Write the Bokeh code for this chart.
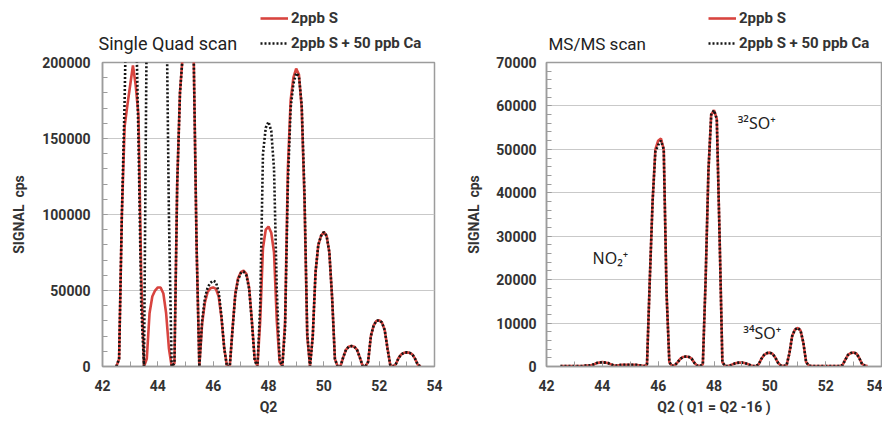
from bokeh.plotting import figure
from bokeh.layouts import row, column
from bokeh.models import (Range1d, SingleIntervalTicker, BasicTickFormatter,
                          Label, Legend, LegendItem)
from bokeh.embed import file_html
from bokeh.resources import INLINE

# ---------------- data ----------------
mass = [42.5, 42.6, 42.7, 42.8, 42.9, 43.0, 43.1, 43.2, 43.3, 43.4,
        43.5, 43.6, 43.7, 43.8, 43.9, 44.0, 44.1, 44.2, 44.3, 44.4,
        44.5, 44.6, 44.7, 44.8, 44.9, 45.0, 45.1, 45.2, 45.3, 45.4,
        45.5, 45.6, 45.7, 45.8, 45.9, 46.0, 46.1, 46.2, 46.3, 46.4,
        46.5, 46.6, 46.7, 46.8, 46.9, 47.0, 47.1, 47.2, 47.3, 47.4,
        47.5, 47.6, 47.7, 47.8, 47.9, 48.0, 48.1, 48.2, 48.3, 48.4,
        48.5, 48.6, 48.7, 48.8, 48.9, 49.0, 49.1, 49.2, 49.3, 49.4,
        49.5, 49.6, 49.7, 49.8, 49.9, 50.0, 50.1, 50.2, 50.3, 50.4,
        50.5, 50.6, 50.7, 50.8, 50.9, 51.0, 51.1, 51.2, 51.3, 51.4,
        51.5, 51.6, 51.7, 51.8, 51.9, 52.0, 52.1, 52.2, 52.3, 52.4,
        52.5, 52.6, 52.7, 52.8, 52.9, 53.0, 53.1, 53.2, 53.3, 53.4,
        53.5]

# Single Quad scan, 2ppb S
sq_s = [0, 5000, 100000, 158000, 172000, 185000, 198000, 185000, 165000, 60000,
        0, 5000, 35000, 46000, 50000, 52000, 52000, 48000, 35000, 12000,
        0, 2000, 120000, 180000, 205000, 220000, 220000, 210000, 200000, 80000,
        0, 28000, 42000, 49000, 51500, 52000, 51000, 46000, 32000, 12000,
        0, 0, 25000, 48000, 58000, 62000, 63000, 61000, 52000, 30000,
        5000, 0, 30000, 78000, 90000, 92000, 88000, 75000, 30000, 3000,
        0, 30000, 130000, 175000, 190000, 196000, 192000, 170000, 110000, 20000,
        0, 20000, 62000, 80000, 86000, 88500, 86000, 75000, 45000, 5000,
        0, 0, 6000, 11000, 13000, 13500, 13000, 11000, 6000, 500,
        0, 3000, 20000, 27000, 30000, 30500, 29000, 24000, 12000, 1000,
        0, 1500, 5500, 8000, 9000, 9300, 9000, 8000, 5000, 1000,
        0]

# Single Quad scan, 2ppb S + 50 ppb Ca
sq_s_ca = [0, 5000, 100000, 175000, 280000, 320000, 300000, 240000, 150000, 40000,
           0, 230000, 400000, 450000, 480000, 500000, 480000, 420000, 260000, 100000,
           0, 2000, 120000, 180000, 205000, 225000, 225000, 212000, 200000, 80000,
           0, 30000, 45000, 52000, 55000, 56500, 55500, 49000, 33000, 12000,
           0, 0, 24000, 47000, 57000, 61500, 62500, 60000, 51000, 29000,
           4000, 0, 40000, 140000, 157000, 161000, 155000, 130000, 50000, 5000,
           0, 25000, 120000, 170000, 186000, 193000, 191000, 172000, 115000, 22000,
           0, 20000, 62000, 80000, 86000, 88500, 86000, 75000, 45000, 5000,
           0, 0, 6000, 11000, 13000, 13500, 13000, 11000, 6000, 500,
           0, 3000, 20000, 27000, 30000, 30500, 29000, 24000, 12000, 1000,
           0, 1500, 5500, 8000, 9000, 9300, 9000, 8000, 5000, 1000,
           0]

# MS/MS scan, 2ppb S
ms_s = [100, 100, 100, 100, 100, 100, 100, 100, 100, 200,
        200, 300, 500, 800, 900, 1000, 900, 800, 500, 300,
        200, 300, 400, 400, 400, 400, 400, 400, 300, 200,
        100, 500, 20000, 38000, 50000, 52000, 52500, 50000, 17000, 1000,
        100, 300, 1000, 1800, 2200, 2300, 2200, 1800, 800, 200,
        100, 500, 20000, 45000, 58000, 59000, 57000, 30000, 1000, 100,
        100, 300, 600, 800, 900, 900, 800, 600, 300, 100,
        100, 500, 1800, 2700, 3100, 3200, 2900, 2000, 800, 200,
        100, 300, 3000, 7000, 8500, 8900, 8300, 5500, 1000, 200,
        100, 100, 100, 100, 100, 100, 100, 100, 100, 100,
        100, 300, 1500, 2700, 3100, 3200, 3000, 2000, 600, 200,
        100]

# MS/MS scan, 2ppb S + 50 ppb Ca
ms_s_ca = [100, 100, 100, 100, 100, 100, 100, 100, 100, 200,
           200, 300, 500, 800, 900, 1000, 900, 800, 500, 300,
           200, 300, 400, 400, 400, 400, 400, 400, 300, 200,
           100, 500, 20000, 38000, 49500, 51000, 52000, 50000, 17000, 1000,
           100, 300, 1000, 1800, 2200, 2300, 2200, 1800, 800, 200,
           100, 500, 20000, 45000, 58000, 59000, 57000, 30000, 1000, 100,
           100, 300, 600, 800, 900, 900, 800, 600, 300, 100,
           100, 500, 1800, 2700, 3100, 3200, 2900, 2000, 800, 200,
           100, 300, 3000, 7000, 8500, 8900, 8300, 5500, 1000, 200,
           100, 100, 100, 100, 100, 100, 100, 100, 100, 100,
           100, 300, 1500, 2700, 3100, 3200, 3000, 2000, 600, 200,
           100]

legend_labels = ["2ppb S", "2ppb S + 50 ppb Ca"]
titles = ["Single Quad scan", "MS/MS scan"]
x_labels = ["Q2", "Q2 ( Q1 = Q2 -16 )"]
y_label = "SIGNAL\u00a0\u00a0cps"
annotations = [("\u00b3\u00b2SO\u207a", 48.85, 56000),
               ("NO\u2082\u207a", 43.65, 24900),
               ("\u00b3\u2074SO\u207a", 49.05, 7600)]

# ---------------- styling ----------------
FONT = "Roboto"
RED = "#d8443f"
BLACK = "#151515"
GRAY = "#9c9c9c"
TXT = "#333333"
HEAD_H = 54


def make_header(width, title, title_x, legend_x, title_size, ys, yca):
    h = figure(width=width, height=HEAD_H, output_backend="svg",
               toolbar_location=None, title=None,
               x_axis_location=None, y_axis_location=None,
               x_range=Range1d(0, 1), y_range=Range1d(0, 1),
               min_border=0, outline_line_color=None)
    h.background_fill_color = "white"
    h.border_fill_color = "white"
    h.grid.visible = False
    # the same series (outside this strip's range) so the key shows their styles
    r_s = h.line(mass, ys, line_color=RED, line_width=2.6)
    r_ca = h.line(mass, yca, line_color=BLACK, line_width=2.6, line_dash="2 2")
    legend = Legend(items=[LegendItem(label=legend_labels[0], renderers=[r_s]),
                           LegendItem(label=legend_labels[1], renderers=[r_ca])],
                    location=(legend_x, 1), padding=0, margin=0, spacing=5,
                    glyph_width=28, glyph_height=20, label_height=20,
                    label_standoff=3, border_line_color=None,
                    background_fill_alpha=0)
    legend.label_text_font = FONT
    legend.label_text_font_style = "bold"
    legend.label_text_font_size = "15px"
    legend.label_text_color = TXT
    h.add_layout(legend, "center")
    h.add_layout(Label(x=title_x, y=11, x_units="screen", y_units="screen",
                       text=title, text_font=FONT, text_font_size=title_size,
                       text_baseline="middle", text_color="#222222"))
    return h


def make_fig(width, y_max, y_interval, yvals_s, yvals_ca, xlabel,
             border_left, border_right, ylab_standoff, ytick_standoff):
    p = figure(width=width, height=364, output_backend="svg",
               toolbar_location=None, title=None,
               x_range=Range1d(42, 54), y_range=Range1d(0, y_max),
               min_border_left=border_left, min_border_right=border_right,
               min_border_top=8, min_border_bottom=52)
    p.background_fill_color = "white"
    p.border_fill_color = "white"
    p.outline_line_color = GRAY
    p.outline_line_width = 1.5

    p.xaxis.ticker = SingleIntervalTicker(interval=2, num_minor_ticks=2)
    p.yaxis.ticker = SingleIntervalTicker(interval=y_interval, num_minor_ticks=5)
    p.yaxis.formatter = BasicTickFormatter(use_scientific=False)

    for ax in (p.xaxis, p.yaxis):
        ax.axis_line_color = GRAY
        ax.axis_line_width = 1.5
        ax.major_tick_line_color = GRAY
        ax.minor_tick_line_color = GRAY
        ax.major_tick_in = 5
        ax.major_tick_out = 0
        ax.minor_tick_in = 5
        ax.minor_tick_out = 0
        ax.major_label_text_font = FONT
        ax.major_label_text_font_style = "bold"
        ax.major_label_text_font_size = "14px"
        ax.major_label_text_color = TXT
        ax.axis_label_text_font = FONT
        ax.axis_label_text_font_style = "bold"
        ax.axis_label_text_font_size = "14px"
        ax.axis_label_text_color = TXT

    p.xaxis.major_label_standoff = 13
    p.xaxis.axis_label = xlabel
    p.xaxis.axis_label_standoff = 5
    p.yaxis.major_label_standoff = ytick_standoff
    p.yaxis.axis_label = y_label
    p.yaxis.axis_label_standoff = ylab_standoff

    p.xgrid.grid_line_color = None
    p.ygrid.grid_line_color = "#c9c9c9"
    p.ygrid.grid_line_width = 1.2

    p.line(mass, yvals_s, line_color=RED, line_width=2.6)
    p.line(mass, yvals_ca, line_color=BLACK, line_width=2.6, line_dash="2 2")
    return p


W1, W2 = 445, 437
h1 = make_header(W1, titles[0], 98, 260, "18px", sq_s, sq_s_ca)
h2 = make_header(W2, titles[1], 103, 263, "17px", ms_s, ms_s_ca)
p1 = make_fig(W1, 200000, 50000, sq_s, sq_s_ca, x_labels[0], 102, 11, 12, 12)
p2 = make_fig(W2, 70000, 10000, ms_s, ms_s_ca, x_labels[1], 101, 1, 11, 10)

for txt, ax_, ay_ in annotations:
    p2.add_layout(Label(x=ax_, y=ay_, text=txt, text_font="Noto Sans",
                        text_font_size="16px", text_baseline="middle",
                        text_color="#222222"))

layout = column(row(h1, h2), row(p1, p2))
open("out.html", "w").write(file_html(layout, INLINE))
